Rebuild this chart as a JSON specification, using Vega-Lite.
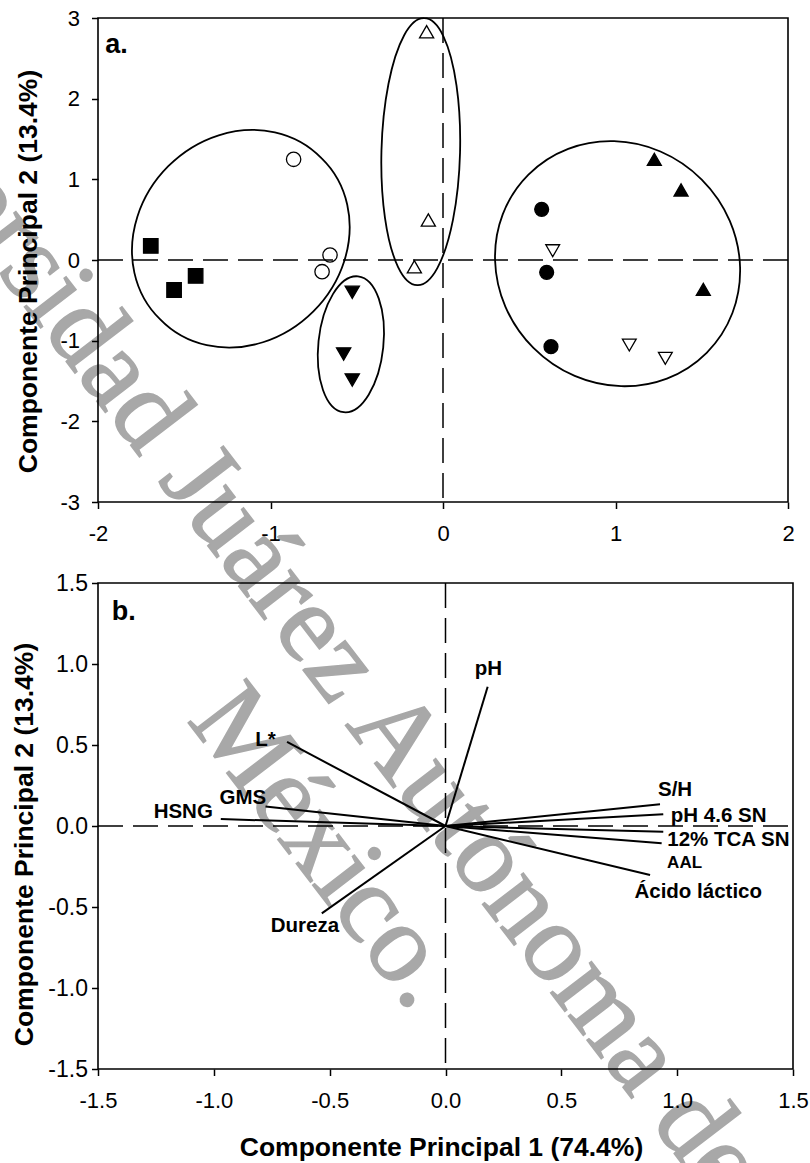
{
  "$schema": "https://vega.github.io/schema/vega-lite/v6.json",
  "autosize": {"type": "none"},
  "padding": {"left": 98, "top": 18, "right": 712, "bottom": 1145},
  "background": "white",
  "spacing": 81,
  "bounds": "flush",
  "config": {
    "view": {"stroke": null},
    "font": "Liberation Sans",
    "axis": {
      "grid": false,
      "domain": false,
      "ticks": true,
      "tickColor": "black",
      "tickWidth": 1.5,
      "tickSize": 6.5,
      "labelFont": "Liberation Sans",
      "labelFontSize": 22,
      "labelColor": "black",
      "labelFlush": false,
      "labelOverlap": false,
      "labelBound": false,
      "titleFont": "Liberation Sans",
      "titleFontSize": 26.5,
      "titleFontWeight": "bold",
      "titleColor": "black"
    }
  },
  "datasets": {
    "puntos": [
      {"grupo": "G1", "pc1": -1.694, "pc2": 0.174},
      {"grupo": "G1", "pc1": -1.559, "pc2": -0.372},
      {"grupo": "G1", "pc1": -1.434, "pc2": -0.198},
      {"grupo": "G2", "pc1": -0.866, "pc2": 1.248},
      {"grupo": "G2", "pc1": -0.655, "pc2": 0.062},
      {"grupo": "G2", "pc1": -0.701, "pc2": -0.145},
      {"grupo": "G3", "pc1": -0.526, "pc2": -0.401},
      {"grupo": "G3", "pc1": -0.576, "pc2": -1.165},
      {"grupo": "G3", "pc1": -0.526, "pc2": -1.488},
      {"grupo": "G4", "pc1": -0.095, "pc2": 2.830},
      {"grupo": "G4", "pc1": -0.085, "pc2": 0.496},
      {"grupo": "G4", "pc1": -0.166, "pc2": -0.083},
      {"grupo": "G5", "pc1": 1.225, "pc2": 1.248},
      {"grupo": "G5", "pc1": 1.380, "pc2": 0.868},
      {"grupo": "G5", "pc1": 1.509, "pc2": -0.364},
      {"grupo": "G6", "pc1": 0.572, "pc2": 0.628},
      {"grupo": "G6", "pc1": 0.601, "pc2": -0.153},
      {"grupo": "G6", "pc1": 0.626, "pc2": -1.075},
      {"grupo": "G7", "pc1": 0.636, "pc2": 0.115},
      {"grupo": "G7", "pc1": 1.080, "pc2": -1.054},
      {"grupo": "G7", "pc1": 1.289, "pc2": -1.219}
    ],
    "elipses": [
      {"elipse": "E1", "pc1": -1.172, "pc2": 0.263},
      {"elipse": "E2", "pc1": -0.129, "pc2": 1.343},
      {"elipse": "E3", "pc1": -0.534, "pc2": -1.045},
      {"elipse": "E4", "pc1": 1.012, "pc2": -0.046}
    ],
    "cargas": [
      {"variable": "L*", "pc1": -0.684, "pc2": 0.519, "etiqueta_pc1": -0.777, "etiqueta_pc2": 0.528},
      {"variable": "GMS", "pc1": -0.777, "pc2": 0.120, "etiqueta_pc1": -0.875, "etiqueta_pc2": 0.175},
      {"variable": "HSNG", "pc1": -0.970, "pc2": 0.043, "etiqueta_pc1": -1.132, "etiqueta_pc2": 0.088},
      {"variable": "Dureza", "pc1": -0.534, "pc2": -0.539, "etiqueta_pc1": -0.607, "etiqueta_pc2": -0.615},
      {"variable": "pH", "pc1": 0.182, "pc2": 0.860, "etiqueta_pc1": 0.185, "etiqueta_pc2": 0.972},
      {"variable": "S/H", "pc1": 0.926, "pc2": 0.134, "etiqueta_pc1": 0.991, "etiqueta_pc2": 0.222},
      {"variable": "pH 4.6 SN", "pc1": 0.940, "pc2": 0.072, "etiqueta_pc1": 1.179, "etiqueta_pc2": 0.064},
      {"variable": "12% TCA SN", "pc1": 0.940, "pc2": -0.035, "etiqueta_pc1": 1.221, "etiqueta_pc2": -0.088},
      {"variable": "AAL", "pc1": 0.933, "pc2": -0.107, "etiqueta_pc1": 1.032, "etiqueta_pc2": -0.230},
      {"variable": "Ácido láctico", "pc1": 0.883, "pc2": -0.302, "etiqueta_pc1": 1.091, "etiqueta_pc2": -0.406}
    ],
    "marcaAgua": [
      {"texto": "Universidad Juárez Autónoma de Tabasco.", "pc1": -0.318, "pc2": -6.459},
      {"texto": "México.", "pc1": -0.835, "pc2": -7.526}
    ]
  },
  "vconcat": [
    {
      "width": 690,
      "height": 484,
      "layer": [
        {
          "data": {"name": "marcaAgua"},
          "mark": {"type": "text", "font": "Liberation Serif", "fontSize": 112, "angle": 52.5, "align": "center", "baseline": "alphabetic", "color": "#a8a8a8", "stroke": "#a8a8a8", "strokeWidth": 1.5},
          "encoding": {
            "x": {"field": "pc1", "type": "quantitative", "scale": {"domain": [-2, 2], "nice": false, "zero": false}},
            "y": {"field": "pc2", "type": "quantitative", "scale": {"domain": [-3, 3], "nice": false, "zero": false}},
            "text": {"field": "texto"}
          }
        },
        {
          "data": {"values": [{}]},
          "mark": {"type": "rect", "filled": false, "color": "black", "strokeWidth": 1.6},
          "encoding": {
            "x": {"datum": -2, "type": "quantitative", "scale": {"domain": [-2, 2], "nice": false, "zero": false}},
            "x2": {"datum": 2},
            "y": {"datum": -3, "type": "quantitative", "scale": {"domain": [-3, 3], "nice": false, "zero": false}},
            "y2": {"datum": 3}
          }
        },
        {
          "data": {"values": [{}]},
          "mark": {"type": "rule", "color": "black", "strokeWidth": 1.5, "strokeDash": [25, 10]},
          "encoding": {
            "x": {"datum": -2, "type": "quantitative", "scale": {"domain": [-2, 2], "nice": false, "zero": false}},
            "x2": {"datum": 2},
            "y": {"datum": 0, "type": "quantitative", "scale": {"domain": [-3, 3], "nice": false, "zero": false}}
          }
        },
        {
          "data": {"values": [{}]},
          "mark": {"type": "rule", "color": "black", "strokeWidth": 1.5, "strokeDash": [25, 10]},
          "encoding": {
            "x": {"datum": 0, "type": "quantitative", "scale": {"domain": [-2, 2], "nice": false, "zero": false}},
            "y": {"datum": 3, "type": "quantitative", "scale": {"domain": [-3, 3], "nice": false, "zero": false}},
            "y2": {"datum": -3}
          }
        },
        {
          "data": {"name": "elipses"},
          "mark": {"type": "point", "filled": false, "color": "black", "strokeWidth": 1.8, "size": 4, "opacity": 1},
          "encoding": {
            "x": {"field": "pc1", "type": "quantitative", "scale": {"domain": [-2, 2], "nice": false, "zero": false}},
            "y": {"field": "pc2", "type": "quantitative", "scale": {"domain": [-3, 3], "nice": false, "zero": false}},
            "shape": {"field": "elipse", "type": "nominal", "legend": null,
              "scale": {"domain": ["E1", "E2", "E3", "E4"], "range": [
                "M -80.6,80.6 A 114,101 -45 1,0 80.6,-80.6 A 114,101 -45 1,0 -80.6,80.6 Z",
                "M -3.5,133.45 A 39,133.5 1.5 1,0 3.5,-133.45 A 39,133.5 1.5 1,0 -3.5,133.45 Z",
                "M -7.14,67.93 A 32.5,68.3 6 1,0 7.14,-67.93 A 32.5,68.3 6 1,0 -7.14,67.93 Z",
                "M -89.1,-89.1 A 126,119 45 1,0 89.1,89.1 A 126,119 45 1,0 -89.1,-89.1 Z"
              ]}}
          }
        },
        {
          "data": {"name": "puntos"},
          "mark": {"type": "point", "filled": true, "stroke": "black", "strokeWidth": 1.3, "opacity": 1},
          "encoding": {
            "x": {"field": "pc1", "type": "quantitative", "scale": {"domain": [-2, 2], "nice": false, "zero": false},
              "axis": {"orient": "bottom", "zindex": 1, "values": [-2, -1, 0, 1, 2], "format": "d", "labelExpr": "replace(datum.label, '\u2212', '-')", "title": null, "labelPadding": 15}},
            "y": {"field": "pc2", "type": "quantitative", "scale": {"domain": [-3, 3], "nice": false, "zero": false},
              "axis": {"orient": "left", "zindex": 1, "values": [-3, -2, -1, 0, 1, 2, 3], "format": "d", "labelExpr": "replace(datum.label, '\u2212', '-')", "labelPadding": 12,
                "title": "Componente  Principal 2 (13.4%)", "titleX": -62, "titleY": 253, "titleAngle": 270, "titleAlign": "center", "titleBaseline": "alphabetic"}},
            "shape": {"field": "grupo", "type": "nominal", "legend": null,
              "scale": {"domain": ["G1", "G2", "G3", "G4", "G5", "G6", "G7"], "range": ["square", "circle", "triangle-down", "triangle-up", "triangle-up", "circle", "triangle-down"]}},
            "fill": {"field": "grupo", "type": "nominal", "legend": null,
              "scale": {"domain": ["G1", "G2", "G3", "G4", "G5", "G6", "G7"], "range": ["black", "transparent", "black", "transparent", "black", "black", "transparent"]}},
            "size": {"field": "grupo", "type": "nominal", "legend": null,
              "scale": {"domain": ["G1", "G2", "G3", "G4", "G5", "G6", "G7"], "range": [210, 190, 256, 256, 256, 282, 256]}}
          }
        },
        {
          "data": {"values": [{"etiqueta": "a.", "pc1": -1.958, "pc2": 2.566}]},
          "mark": {"type": "text", "font": "Liberation Sans", "fontWeight": "bold", "fontSize": 27, "align": "left", "baseline": "alphabetic", "color": "black"},
          "encoding": {
            "x": {"field": "pc1", "type": "quantitative", "scale": {"domain": [-2, 2], "nice": false, "zero": false}},
            "y": {"field": "pc2", "type": "quantitative", "scale": {"domain": [-3, 3], "nice": false, "zero": false}},
            "text": {"field": "etiqueta"}
          }
        }
      ],
      "resolve": {"scale": {"shape": "independent"}}
    },
    {
      "width": 695,
      "height": 486,
      "layer": [
        {
          "data": {"values": [{}]},
          "mark": {"type": "rect", "filled": false, "color": "black", "strokeWidth": 1.6},
          "encoding": {
            "x": {"datum": -1.5, "type": "quantitative", "scale": {"domain": [-1.5, 1.5], "nice": false, "zero": false}},
            "x2": {"datum": 1.5},
            "y": {"datum": -1.5, "type": "quantitative", "scale": {"domain": [-1.5, 1.5], "nice": false, "zero": false}},
            "y2": {"datum": 1.5}
          }
        },
        {
          "data": {"values": [{}]},
          "mark": {"type": "rule", "color": "black", "strokeWidth": 1.5, "strokeDash": [25, 10]},
          "encoding": {
            "x": {"datum": -1.5, "type": "quantitative", "scale": {"domain": [-1.5, 1.5], "nice": false, "zero": false}},
            "x2": {"datum": 1.5},
            "y": {"datum": 0, "type": "quantitative", "scale": {"domain": [-1.5, 1.5], "nice": false, "zero": false}}
          }
        },
        {
          "data": {"values": [{}]},
          "mark": {"type": "rule", "color": "black", "strokeWidth": 1.5, "strokeDash": [25, 10]},
          "encoding": {
            "x": {"datum": 0, "type": "quantitative", "scale": {"domain": [-1.5, 1.5], "nice": false, "zero": false}},
            "y": {"datum": 1.5, "type": "quantitative", "scale": {"domain": [-1.5, 1.5], "nice": false, "zero": false}},
            "y2": {"datum": -1.5}
          }
        },
        {
          "data": {"name": "cargas"},
          "mark": {"type": "rule", "color": "black", "strokeWidth": 2},
          "encoding": {
            "x": {"field": "pc1", "type": "quantitative", "scale": {"domain": [-1.5, 1.5], "nice": false, "zero": false},
              "axis": {"orient": "bottom", "zindex": 1, "values": [-1.5, -1, -0.5, 0, 0.5, 1, 1.5], "format": ".1f", "labelExpr": "replace(datum.label, '\u2212', '-')", "labelPadding": 15,
                "title": "Componente Principal 1 (74.4%)", "titleX": 343, "titleY": 86, "titleAlign": "center", "titleBaseline": "alphabetic"}},
            "y": {"field": "pc2", "type": "quantitative", "scale": {"domain": [-1.5, 1.5], "nice": false, "zero": false},
              "axis": {"orient": "left", "zindex": 1, "values": [-1.5, -1, -0.5, 0, 0.5, 1, 1.5], "format": ".1f", "labelExpr": "replace(datum.label, '\u2212', '-')", "labelPadding": 4, "labelFontSize": 23,
                "title": "Componente  Principal 2 (13.4%)", "titleX": -66, "titleY": 261, "titleAngle": 270, "titleAlign": "center", "titleBaseline": "alphabetic"}},
            "x2": {"datum": 0},
            "y2": {"datum": 0}
          }
        },
        {
          "data": {"name": "cargas"},
          "mark": {"type": "text", "font": "Liberation Sans", "fontWeight": "bold", "align": "center", "baseline": "middle", "color": "black"},
          "encoding": {
            "x": {"field": "etiqueta_pc1", "type": "quantitative", "scale": {"domain": [-1.5, 1.5], "nice": false, "zero": false}},
            "y": {"field": "etiqueta_pc2", "type": "quantitative", "scale": {"domain": [-1.5, 1.5], "nice": false, "zero": false}},
            "text": {"field": "variable"},
            "size": {"condition": {"test": "datum.variable === 'AAL'", "value": 17}, "value": 20.5}
          }
        },
        {
          "data": {"values": [{"etiqueta": "b.", "pc1": -1.441, "pc2": 1.272}]},
          "mark": {"type": "text", "font": "Liberation Sans", "fontWeight": "bold", "fontSize": 27, "align": "left", "baseline": "alphabetic", "color": "black"},
          "encoding": {
            "x": {"field": "pc1", "type": "quantitative", "scale": {"domain": [-1.5, 1.5], "nice": false, "zero": false}},
            "y": {"field": "pc2", "type": "quantitative", "scale": {"domain": [-1.5, 1.5], "nice": false, "zero": false}},
            "text": {"field": "etiqueta"}
          }
        }
      ]
    }
  ]
}
